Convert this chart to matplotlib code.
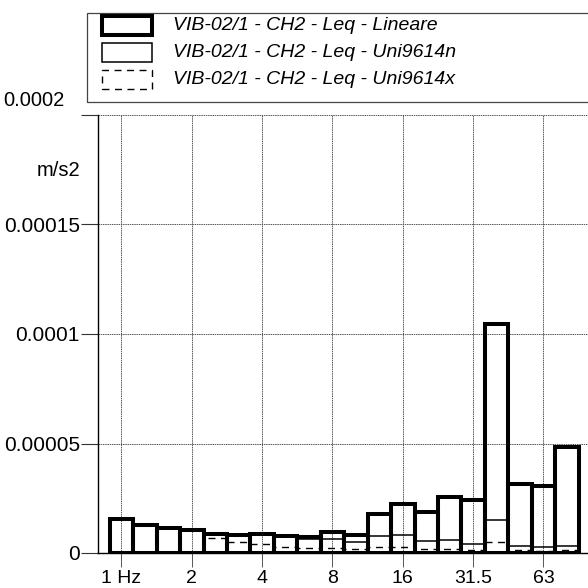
import matplotlib
matplotlib.use("Agg")
import matplotlib.pyplot as plt
from matplotlib.patches import Rectangle

plt.rcParams["font.family"] = ["Liberation Sans", "DejaVu Sans"]

# third-octave bands, 1 Hz .. 80 Hz
bands = [1, 1.25, 1.6, 2, 2.5, 3.15, 4, 5, 6.3, 8,
         10, 12.5, 16, 20, 25, 31.5, 40, 50, 63, 80]

# Leq per band, m/s2
lineare = [1.55e-5, 1.28e-5, 1.12e-5, 1.06e-5, 8.7e-6, 8.4e-6, 8.7e-6, 7.6e-6, 7.4e-6, 9.6e-6,
           8.4e-6, 1.76e-5, 2.26e-5, 1.87e-5, 2.55e-5, 2.4e-5, 1.045e-4, 3.15e-5, 3.08e-5, 4.84e-5]
uni9614n = [1.55e-5, 1.28e-5, 1.12e-5, 1.06e-5, 8.7e-6, 8.4e-6, 8.7e-6, 7.6e-6, 6.6e-6, 6.5e-6,
            5.0e-6, 7.7e-6, 8.2e-6, 5.4e-6, 5.9e-6, 4.1e-6, 1.5e-5, 3.4e-6, 2.7e-6, 3.3e-6]
uni9614x = [1.55e-5, 1.28e-5, 1.12e-5, 1.06e-5, 7.0e-6, 5.2e-6, 4.3e-6, 2.8e-6, 2.3e-6, 2.3e-6,
            1.8e-6, 2.7e-6, 2.6e-6, 1.9e-6, 2.0e-6, 1.5e-6, 4.9e-6, 1.3e-6, 1.0e-6, 1.2e-6]

series_names = ["VIB-02/1 - CH2 - Leq - Lineare",
                "VIB-02/1 - CH2 - Leq - Uni9614n",
                "VIB-02/1 - CH2 - Leq - Uni9614x"]

tick_bands = [1, 2, 4, 8, 16, 31.5, 63]
tick_labels = ["1 Hz", "2", "4", "8", "16", "31.5", "63"]
y_ticks = [0, 0.00005, 0.0001, 0.00015, 0.0002]
y_labels = ["0", "0.00005", "0.0001", "0.00015", "0.0002"]

W, H = 588, 588
fig = plt.figure(figsize=(W / 100, H / 100), dpi=100)
ax = fig.add_axes([98 / W, 1 - 553 / H, 1 - 98 / W, (553 - 115) / H])

pos = list(range(len(bands)))
styles = [dict(linewidth=2.9, linestyle="-"),
          dict(linewidth=1.1, linestyle="-"),
          dict(linewidth=1.0, linestyle=(0, (5, 4)))]
for vals, st, z in zip([lineare, uni9614n, uni9614x], styles, [3, 4, 5]):
    bars = ax.bar(pos, vals, width=1.0, fill=False, edgecolor="black", zorder=z, **st)
    for b in bars:
        b.set_joinstyle("miter")

ax.set_xlim(-1, 19.9)
ax.set_ylim(0, 0.0002)
ax.set_xticks([bands.index(b) for b in tick_bands])
ax.set_xticklabels(tick_labels, fontsize=14)
# top label is drawn separately, raised above the frame
ax.set_yticks(y_ticks)
ax.set_yticklabels(y_labels[:-1] + [""], fontsize=15)
ax.tick_params(axis="x", length=10, width=0.7, color="#555555", pad=2)
ax.tick_params(axis="y", length=12, width=0.8, color="#333333", pad=1)
fig.text(3 / W, 1 - 101 / H, y_labels[-1], fontsize=14.5, ha="left", va="center")

ax.grid(True, color="#555555", linewidth=0.7, linestyle=(0, (1.5, 0.8)), zorder=0)
ax.set_axisbelow(True)
for s in ["top", "right"]:
    ax.spines[s].set_visible(False)
for s in ["left", "bottom"]:
    ax.spines[s].set_linewidth(1.0)
    ax.spines[s].set_zorder(6)

fig.text(58 / W, 1 - 170 / H, "m/s2", fontsize=14.5, ha="center", va="center")

# legend box
fig.patches.append(Rectangle((87 / W, 1 - 102 / H), 1.0, 89 / H, transform=fig.transFigure,
                             fill=False, edgecolor="#444444", linewidth=0.9))
rows = [(16, 35), (43, 62), (70, 89)]
for (y0, y1), st, name in zip(rows, styles, series_names):
    r = Rectangle((102 / W, 1 - y1 / H), 50 / W, (y1 - y0) / H, transform=fig.transFigure,
                  fill=False, edgecolor="black", joinstyle="miter", **st)
    fig.patches.append(r)
    fig.text(173 / W, 1 - (y0 + y1) / 2 / H, name, fontsize=14, style="italic",
             ha="left", va="center")

fig.savefig("out.png", dpi=100)
